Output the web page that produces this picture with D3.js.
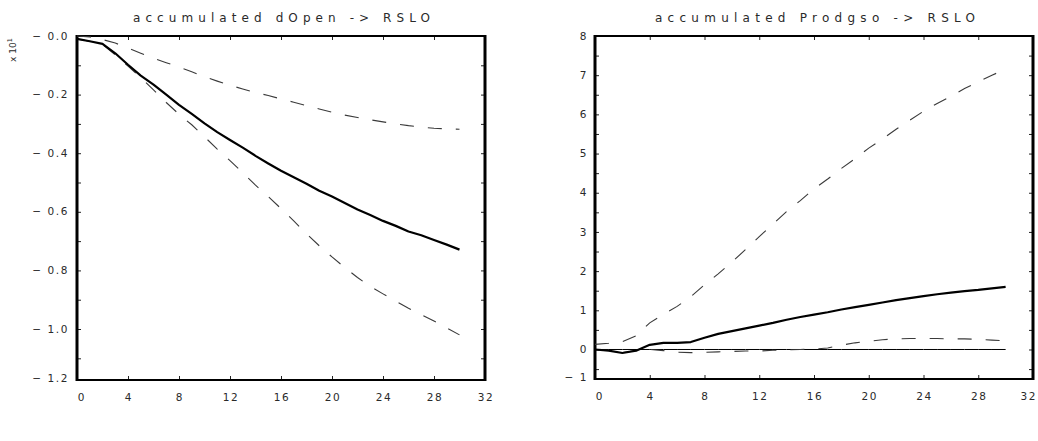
<!DOCTYPE html>
<html><head><meta charset="utf-8">
<script src="https://cdn.jsdelivr.net/npm/d3@7"></script>
<style>
body{margin:0;background:#fff}
svg{display:block;background:#fff}
text{font-family:"DejaVu Sans",sans-serif;fill:#2a2a2a}
</style>
</head><body>
<svg id="c" width="1038" height="441"></svg>
<script>
// ---- data ----
const horizons = [0,1,2,3,4,5,6,7,8,9,10,11,12,13,14,15,16,17,18,19,20,21,22,23,24,25,26,27,28,29,30];
const xTicks = [0,4,8,12,16,20,24,28,32];

const leftTitle = "accumulated dOpen -> RSLO";
const leftPoint = [-0.010,-0.018,-0.027,-0.059,-0.098,-0.135,-0.166,-0.200,-0.235,-0.266,-0.298,-0.328,-0.355,-0.381,-0.409,-0.435,-0.460,-0.482,-0.504,-0.528,-0.548,-0.570,-0.592,-0.611,-0.631,-0.648,-0.667,-0.680,-0.696,-0.712,-0.729];
const leftUpper = [0.000,-0.003,-0.012,-0.024,-0.041,-0.059,-0.076,-0.091,-0.106,-0.122,-0.139,-0.154,-0.168,-0.181,-0.193,-0.203,-0.215,-0.226,-0.238,-0.249,-0.260,-0.270,-0.278,-0.286,-0.293,-0.300,-0.306,-0.311,-0.315,-0.317,-0.318];
const leftLower = [-0.010,-0.018,-0.029,-0.064,-0.103,-0.142,-0.184,-0.227,-0.267,-0.303,-0.344,-0.386,-0.425,-0.467,-0.509,-0.548,-0.589,-0.631,-0.675,-0.716,-0.754,-0.790,-0.824,-0.855,-0.880,-0.905,-0.929,-0.951,-0.973,-0.996,-1.020];
const leftYTicks = [0,-0.2,-0.4,-0.6,-0.8,-1.0];
const leftYLabels = ["\u2212 0.0","\u2212 0.2","\u2212 0.4","\u2212 0.6","\u2212 0.8","\u2212 1.0"];
const leftYMinor = [-0.1,-0.3,-0.5,-0.7,-0.9,-1.1];
const leftBottomLabel = "\u2212 1.2";
const leftScaleLabel = "x 10";
const leftScaleExp = "1";

const rightTitle = "accumulated Prodgso -> RSLO";
const rightPoint = [0.00,-0.03,-0.09,-0.03,0.12,0.17,0.17,0.19,0.30,0.40,0.47,0.54,0.61,0.68,0.76,0.83,0.89,0.95,1.02,1.08,1.14,1.20,1.26,1.31,1.36,1.41,1.45,1.49,1.52,1.56,1.60];
const rightUpper = [0.13,0.16,0.20,0.35,0.68,0.90,1.10,1.35,1.65,1.93,2.23,2.55,2.88,3.20,3.52,3.80,4.10,4.35,4.62,4.87,5.14,5.37,5.62,5.85,6.08,6.28,6.46,6.66,6.83,7.00,7.15];
const rightLower = [0.00,-0.02,-0.08,-0.03,0.00,-0.03,-0.07,-0.08,-0.07,-0.06,-0.05,-0.04,-0.04,-0.02,-0.01,0.00,0.01,0.04,0.11,0.17,0.21,0.25,0.27,0.28,0.28,0.28,0.27,0.27,0.26,0.24,0.22];
const rightZero = [0,0,0,0,0,0,0,0,0,0,0,0,0,0,0,0,0,0,0,0,0,0,0,0,0,0,0,0,0,0,0];
const rightYTicks = [8,7,6,5,4,3,2,1,0];
const rightYLabels = ["8","7","6","5","4","3","2","1","0"];
const rightYMinor = [7.5,6.5,5.5,4.5,3.5,2.5,1.5,0.5,-0.5];
const rightBottomLabel = "\u2212 1";

// ---- drawing ----
const svg = d3.select("#c");

function panel(cfg){
  const g = svg.append("g");
  const x = d3.scaleLinear().domain([0,32]).range([cfg.x0, cfg.x1]);
  const y = d3.scaleLinear().domain(cfg.yDomain).range([cfg.yBottom, cfg.yTop]);
  const allY = cfg.yTicks.concat(cfg.yMinor).concat([cfg.yDomain[0]]);

  const tickStyle = sel => { sel.select(".domain").remove(); sel.selectAll("line").attr("stroke","#222").attr("stroke-width",1); sel.selectAll("text").remove(); };
  g.append("g").attr("transform",`translate(${cfg.x0},0)`).call(d3.axisLeft(y).tickValues(allY).tickSize(-4).tickFormat("")).call(tickStyle);
  g.append("g").attr("transform",`translate(${cfg.x1},0)`).call(d3.axisRight(y).tickValues(allY).tickSize(-4).tickFormat("")).call(tickStyle);
  g.append("g").attr("transform",`translate(0,${cfg.yBottom})`).call(d3.axisBottom(x).tickValues(xTicks).tickSize(-4).tickFormat("")).call(tickStyle);
  g.append("g").attr("transform",`translate(0,${cfg.yTop})`).call(d3.axisTop(x).tickValues(xTicks).tickSize(-4).tickFormat("")).call(tickStyle);

  g.append("rect").attr("x",cfg.x0).attr("y",cfg.yTop).attr("width",cfg.x1-cfg.x0).attr("height",cfg.yBottom-cfg.yTop)
    .attr("fill","none").attr("stroke","#000").attr("stroke-width",2);
  g.append("line").attr("x1",cfg.x0).attr("x2",cfg.x0).attr("y1",cfg.yTop-1).attr("y2",cfg.yBottom+1).attr("stroke","#000").attr("stroke-width",3);
  g.append("line").attr("x1",cfg.x1).attr("x2",cfg.x1).attr("y1",cfg.yTop-1).attr("y2",cfg.yBottom+1).attr("stroke","#000").attr("stroke-width",3);

  cfg.yTicks.forEach((v,i)=>{
    g.append("text").attr("x",cfg.x0-cfg.labelGap).attr("y",y(v)).attr("dy","0.35em")
      .attr("text-anchor","end").attr("font-size",10.5).attr("letter-spacing",1.6).text(cfg.yLabels[i]);
  });
  g.append("text").attr("x",cfg.x0-cfg.labelGap).attr("y",y(cfg.yDomain[0])).attr("dy","0.2em")
    .attr("text-anchor","end").attr("font-size",10.5).attr("letter-spacing",1.6).text(cfg.bottomLabel);

  xTicks.forEach(v=>{
    const last = cfg.clipLast && v===32;
    g.append("text").attr("x",last?1037:x(v)+(v===0?5:1)).attr("y",cfg.yBottom+17).attr("dy","0.35em")
      .attr("text-anchor",last?"end":"middle").attr("font-size",10.5).attr("letter-spacing",1.6).text(String(v));
  });

  g.append("text").attr("x",cfg.titleX).attr("y",22).attr("font-size",12)
    .attr("textLength",cfg.titleW).attr("lengthAdjust","spacing").text(cfg.title);

  const line = d3.line().x((d,i)=>x(horizons[i])).y(d=>y(d));
  if(cfg.zero){
    g.append("path").datum(cfg.zero).attr("d",line).attr("fill","none").attr("stroke","#000").attr("stroke-width",1);
  }
  [cfg.upper,cfg.lower].forEach(s=>{
    g.append("path").datum(s).attr("d",line).attr("fill","none").attr("stroke","#3a3a3a")
      .attr("stroke-width",1.1).attr("stroke-dasharray","14,14");
  });
  g.append("path").datum(cfg.point).attr("d",line).attr("fill","none").attr("stroke","#000")
    .attr("stroke-width",2.2).attr("stroke-linejoin","round");
  return g;
}

panel({x0:77,x1:485,yTop:36,yBottom:380,yDomain:[-1.174,0],
  yTicks:leftYTicks,yLabels:leftYLabels,yMinor:leftYMinor,bottomLabel:leftBottomLabel,labelGap:8,
  title:leftTitle,titleX:133,titleW:297,
  point:leftPoint,upper:leftUpper,lower:leftLower});

panel({x0:595,x1:1033,yTop:36,yBottom:379,yDomain:[-0.753,8],
  yTicks:rightYTicks,yLabels:rightYLabels,yMinor:rightYMinor,bottomLabel:rightBottomLabel,labelGap:7,
  title:rightTitle,titleX:655,titleW:320,clipLast:true,
  point:rightPoint,upper:rightUpper,lower:rightLower,zero:rightZero});

const sl = svg.append("text").attr("transform","translate(16,62) rotate(-90)").attr("font-size",9);
sl.append("tspan").text(leftScaleLabel);
sl.append("tspan").attr("dy",-4).attr("font-size",6.5).text(leftScaleExp);
</script>
</body></html>
